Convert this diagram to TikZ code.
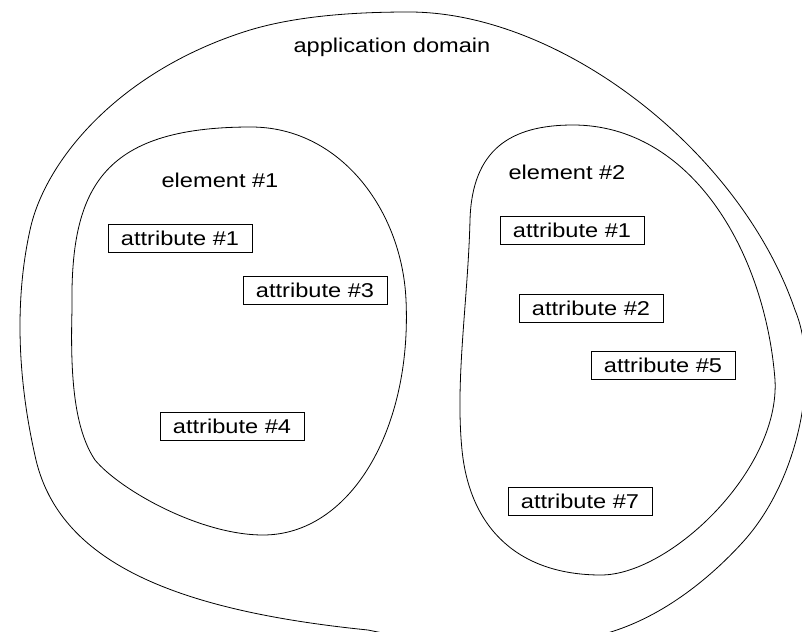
\documentclass[tikz,border=0pt]{standalone}
\usepackage{fontspec}
\setmainfont{Liberation Sans}[FakeStretch=1.18]
\begin{document}
\begin{tikzpicture}[x=0.5pt,y=-0.5pt,line width=0.4pt,
    every node/.style={font=\fontsize{10}{12}\selectfont}]

        \useasboundingbox (0,0) rectangle (802,631);
        \clip (0,0) rectangle (802,631);

        % outer domain
        \draw (409,12) .. controls (560,12) and (740,150) .. (795,310)
          .. controls (820,370) and (800,480) .. (742,543)
          .. controls (710,578) and (660,620) .. (600,635)
          .. controls (520,655) and (440,645) .. (368,630)
          .. controls (170,610) and (60,560) .. (36,460)
          .. controls (28,425) and (8,330) .. (30,230)
          .. controls (45,160) and (120,70) .. (250,30)
          .. controls (300,15) and (360,12) .. cycle;

        % element #1
        \draw (251,127) .. controls (340,127) and (402,210) .. (406,300)
          .. controls (412,430) and (350,535) .. (263,535)
          .. controls (200,535) and (120,490) .. (95,460)
          .. controls (75,430) and (70,380) .. (72,310)
          .. controls (70,190) and (100,127) .. cycle;

        % element #2
        \draw (573,125) .. controls (690,125) and (765,250) .. (775,380)
          .. controls (780,470) and (670,575) .. (601,575)
          .. controls (520,575) and (470,530) .. (462,450)
          .. controls (455,380) and (468,300) .. (470,220)
          .. controls (472,150) and (510,125) .. cycle;

        \node (domain) at (392,47) {application domain};
        \node (elem1)  at (220,180) {element \#1};
        \node (elem2)  at (567,172) {element \#2};

        \begin{scope}[every node/.style={draw,font=\fontsize{10}{12}\selectfont,
            minimum width=72pt,minimum height=14pt,inner sep=1pt}]
          \node (e1a1) at (180,238) {attribute \#1};
          \node (e1a3) at (315,290) {attribute \#3};
          \node (e1a4) at (232,426) {attribute \#4};
          \node (e2a1) at (572,230) {attribute \#1};
          \node (e2a2) at (591,308) {attribute \#2};
          \node (e2a5) at (663,365) {attribute \#5};
          \node (e2a7) at (580,501) {attribute \#7};
        \end{scope}

      \end{tikzpicture}
\end{document}
